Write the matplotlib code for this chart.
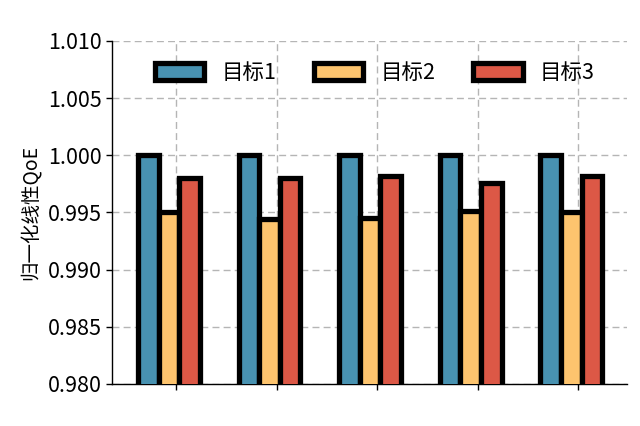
import numpy as np
import matplotlib
matplotlib.use('Agg')
import matplotlib.pyplot as plt

plt.rcParams['font.family'] = ['Noto Sans CJK SC', 'DejaVu Sans']
plt.rcParams['axes.unicode_minus'] = False

# ===== DATA =====
labels = ['目标1', '目标2', '目标3']
groups = np.arange(5)
target1 = [1.0000, 1.0000, 1.0000, 1.0000, 1.0000]
target2 = [0.9950, 0.9944, 0.9945, 0.9951, 0.9950]
target3 = [0.9980, 0.9980, 0.9982, 0.9976, 0.9982]
colors = ['#4892B1', '#FDC46E', '#DC5846']

width = 0.205

fig = plt.figure(figsize=(6.4, 4.26), dpi=100)
ax = fig.add_axes([0.175, 0.0986, 0.805, 0.8054])

for i, (vals, lab) in enumerate(zip([target1, target2, target3], labels)):
    ax.bar(groups + (i - 1) * width, vals, width, color=colors[i],
           edgecolor='black', linewidth=3.8, label=lab, zorder=3)

ax.set_ylim(0.98, 1.01)
ax.set_yticks(np.arange(0.980, 1.0101, 0.005))
ax.set_yticklabels([f'{v:.3f}' for v in np.arange(0.980, 1.0101, 0.005)])
ax.set_xlim(-0.567, 4.557)
ax.set_xticks(groups + 0.07)
ax.set_xticklabels([])

ax.tick_params(axis='both', labelsize=15.5, length=4, width=1, direction='out')
ax.set_ylabel('归一化线性QoE', fontsize=14, labelpad=4)

ax.spines['top'].set_visible(False)
ax.spines['right'].set_visible(False)
ax.spines['left'].set_linewidth(1)
ax.spines['bottom'].set_linewidth(1)

ax.grid(True, linestyle=(0, (5, 3)), color='#b5b5b5', linewidth=1, zorder=0)
ax.set_axisbelow(True)

ax.legend(loc='upper center', bbox_to_anchor=(0.51, 0.995), ncol=3, frameon=False,
          fontsize=15.5, handlelength=2.3, handleheight=0.9, handletextpad=0.8,
          columnspacing=1.75)

fig.savefig('out.png', dpi=100)
